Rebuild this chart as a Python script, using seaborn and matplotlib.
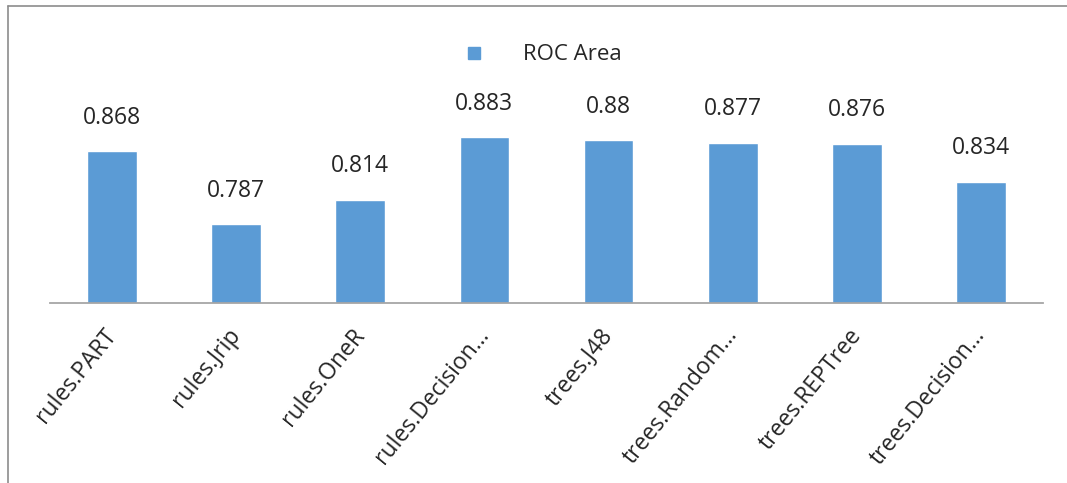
import matplotlib
matplotlib.use("Agg")
import matplotlib.pyplot as plt
from matplotlib.lines import Line2D
from matplotlib import font_manager
from matplotlib.transforms import ScaledTranslation
import seaborn as sns

categories = ["rules.PART", "rules.Jrip", "rules.OneR", "rules.Decision\u2026",
              "trees.J48", "trees.Random\u2026", "trees.REPTree", "trees.Decision\u2026"]
roc_area = [0.868, 0.787, 0.814, 0.883, 0.88, 0.877, 0.876, 0.834]
value_labels = ["0.868", "0.787", "0.814", "0.883", "0.88", "0.877", "0.876", "0.834"]
series_name = "ROC Area"

BAR = "#5B9BD5"
TEXT = "#262626"
AXIS = "#A6A6A6"

sns.set_theme(style="white")
available = {f.name for f in font_manager.fontManager.ttflist}
families = [f for f in ["Liberation Sans Narrow", "Open Sans", "DejaVu Sans"] if f in available]
plt.rcParams["font.family"] = families

fig = plt.figure(figsize=(10.67, 4.83), dpi=100)
ax = fig.add_axes([50 / 1067, 1 - 303 / 483, (1043 - 50) / 1067, (303 - 122) / 483])

sns.barplot(x=categories, y=roc_area, color=BAR, width=0.4, saturation=1,
            ax=ax, zorder=2)
ax.set_ylim(0.7, 0.9)
ax.set_xlim(-0.5, len(categories) - 0.5)

for i, (v, lab) in enumerate(zip(roc_area, value_labels)):
    ax.annotate(lab, (i, v), xytext=(0, 24), textcoords="offset points",
                ha="center", va="center", fontsize=16.5, color=TEXT,
                annotation_clip=False)

for s in ["top", "right", "left"]:
    ax.spines[s].set_visible(False)
ax.spines["bottom"].set_color(AXIS)
ax.spines["bottom"].set_linewidth(1.3)
ax.set_yticks([])
ax.set_ylabel("")
ax.tick_params(axis="x", length=0, pad=15)
ax.set_xticks(range(len(categories)))
ax.set_xticklabels(categories, rotation=51, ha="right", rotation_mode="anchor",
                   fontsize=16.5, color=TEXT)
shift = ScaledTranslation(-9 / 100, 0, fig.dpi_scale_trans)
for t in ax.get_xticklabels():
    t.set_transform(t.get_transform() + shift)

handle = Line2D([], [], marker="s", linestyle="none", markersize=9,
                markerfacecolor=BAR, markeredgecolor=BAR)
fig.legend(handles=[handle], labels=[series_name], loc="center",
           bbox_to_anchor=(0.508, 1 - 55 / 483), frameon=False, fontsize=16,
           handlelength=1.0, handletextpad=1.7, labelcolor=TEXT)

# outer frame: left and top edges
fig.add_artist(Line2D([8 / 1067, 8 / 1067], [0, 1 - 6 / 483],
                      transform=fig.transFigure, color="#8C8C8C", lw=1.2))
fig.add_artist(Line2D([8 / 1067, 1], [1 - 6 / 483, 1 - 6 / 483],
                      transform=fig.transFigure, color="#8C8C8C", lw=1.2))

fig.savefig("out.png", dpi=100, facecolor="white")
